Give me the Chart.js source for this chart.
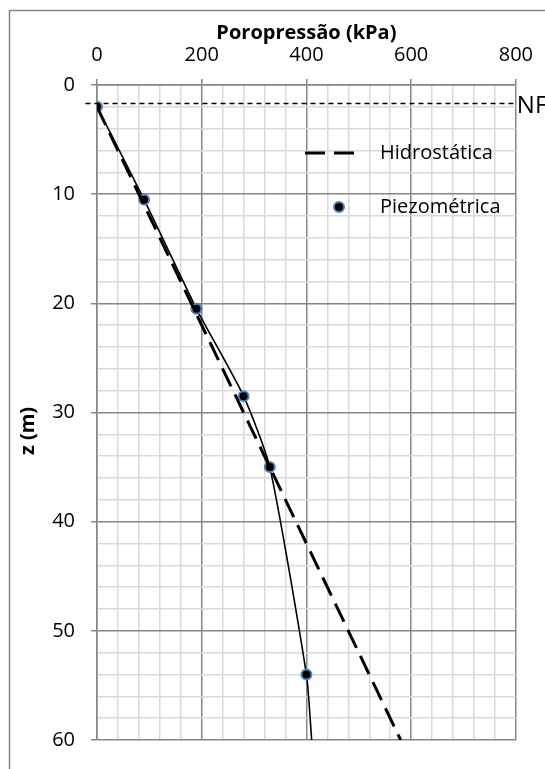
<!DOCTYPE html>
<html>
<head>
<meta charset="utf-8">
<script src="https://cdn.jsdelivr.net/npm/chart.js@4"></script>
<style>
  html, body { margin: 0; padding: 0; background: #fff; }
</style>
</head>
<body>
<canvas id="chart" width="545" height="769"></canvas>
<script>
// pore pressure (kPa) vs depth z (m)
const piezoDepth = [2, 10.5, 20.5, 28.5, 35, 54, 60];
const piezoU = [0, 90, 190, 280, 330, 400, 410];
const hidroDepth = [2, 60];
const hidroU = [0, 580];
const nfDepth = 1.7;
const nfU = [-22, 800];
const xTicks = [0, 200, 400, 600, 800];
const yTicks = [0, 10, 20, 30, 40, 50, 60];

const FONT = '"Open Sans", "Noto Sans", sans-serif';
const MAJOR = '#868686';
const MINOR = '#d9d9d9';

function pts(xs, ys) {
  return xs.map((v, i) => ({ x: v, y: ys[i] }));
}

const extras = {
  id: 'extras',
  beforeDraw(chart) {
    const ctx = chart.ctx;
    ctx.save();
    ctx.fillStyle = '#fff';
    ctx.fillRect(0, 0, chart.width, chart.height);
    ctx.strokeStyle = MAJOR;
    ctx.lineWidth = 1.5;
    ctx.strokeRect(9.5, 10.5, 600, 800);
    ctx.restore();
  },
  afterDraw(chart) {
    const { ctx, scales: { x, y } } = chart;
    ctx.save();
    ctx.fillStyle = '#000';
    ctx.textBaseline = 'middle';
    ctx.textAlign = 'left';

    // NF label
    ctx.font = '24px ' + FONT;
    ctx.fillText('NF', x.getPixelForValue(nfU[1]) + 1, y.getPixelForValue(nfDepth) + 3);

    // y axis title (Excel puts it a bit below the middle)
    ctx.save();
    ctx.translate(28, 431);
    ctx.rotate(-Math.PI / 2);
    ctx.textAlign = 'center';
    ctx.font = 'bold 20px ' + FONT;
    ctx.fillText('z (m)', 0, 0);
    ctx.restore();

    // legend
    ctx.font = '20px ' + FONT;
    const hid = chart.data.datasets[1];
    const pie = chart.data.datasets[2];
    ctx.strokeStyle = '#000';
    ctx.lineWidth = hid.borderWidth;
    ctx.setLineDash(hid.borderDash);
    ctx.beginPath();
    ctx.moveTo(305, 153);
    ctx.lineTo(362, 153);
    ctx.stroke();
    ctx.setLineDash([]);
    ctx.fillText(hid.label, 380, 153);

    ctx.beginPath();
    ctx.arc(339, 207, 5, 0, Math.PI * 2);
    ctx.fillStyle = pie.pointBackgroundColor;
    ctx.fill();
    ctx.lineWidth = pie.pointBorderWidth;
    ctx.strokeStyle = pie.pointBorderColor;
    ctx.stroke();
    ctx.fillStyle = '#000';
    ctx.fillText(pie.label, 380, 207);
    ctx.restore();
  }
};

new Chart(document.getElementById('chart'), {
  type: 'scatter',
  data: {
    datasets: [
      {
        label: 'NF',
        data: pts(nfU, [nfDepth, nfDepth]),
        showLine: true,
        borderColor: '#000',
        borderWidth: 1.5,
        borderDash: [5, 4],
        pointRadius: 0,
        clip: false
      },
      {
        label: 'Hidrostática',
        data: pts(hidroU, hidroDepth),
        showLine: true,
        borderColor: '#000',
        borderWidth: 3,
        borderDash: [20, 9],
        pointRadius: 0
      },
      {
        label: 'Piezométrica',
        data: pts(piezoU, piezoDepth),
        showLine: true,
        tension: 0.2,
        borderColor: '#000',
        borderWidth: 1.6,
        pointRadius: ctx => ctx.dataIndex === piezoU.length - 1 ? 0 : 5,
        pointBackgroundColor: '#000',
        pointBorderColor: '#4f81bd',
        pointBorderWidth: 2
      }
    ]
  },
  options: {
    responsive: false,
    animation: false,
    layout: { padding: { left: 10, top: 10, right: 29, bottom: 29 } },
    plugins: {
      legend: { display: false },
      tooltip: { enabled: false }
    },
    scales: {
      x: {
        type: 'linear',
        position: 'top',
        min: 0,
        max: 800,
        afterFit: s => { s.height = 75; },
        afterBuildTicks: s => {
          s.ticks = [];
          for (let v = 0; v <= 800; v += 40) s.ticks.push({ value: v });
        },
        ticks: {
          autoSkip: false,
          maxRotation: 0,
          minRotation: 0,
          padding: 12,
          color: '#000',
          font: { family: FONT, size: 20 },
          callback: v => xTicks.includes(v) ? String(v) : ''
        },
        grid: {
          color: c => xTicks.includes(c.tick.value) ? MAJOR : MINOR,
          lineWidth: 1.5,
          tickColor: c => xTicks.includes(c.tick.value) ? MAJOR : 'rgba(0,0,0,0)',
          tickLength: 6
        },
        border: { color: MAJOR, width: 1.5 },
        title: {
          display: true,
          text: 'Poropressão (kPa)',
          color: '#000',
          font: { family: FONT, size: 20, weight: 'bold' },
          padding: { top: 11, bottom: 0 }
        }
      },
      y: {
        type: 'linear',
        reverse: true,
        min: 0,
        max: 60,
        afterFit: s => { s.width = 87; },
        afterBuildTicks: s => {
          s.ticks = [];
          for (let v = 0; v <= 60; v += 2) s.ticks.push({ value: v });
        },
        ticks: {
          autoSkip: false,
          padding: 16,
          color: '#000',
          font: { family: FONT, size: 20 },
          callback: v => yTicks.includes(v) ? String(v) : ''
        },
        grid: {
          color: c => yTicks.includes(c.tick.value) ? MAJOR : MINOR,
          lineWidth: 1.5,
          tickColor: c => yTicks.includes(c.tick.value) ? MAJOR : 'rgba(0,0,0,0)',
          tickLength: 6
        },
        border: { color: MAJOR, width: 1.5 },
        title: { display: false }
      }
    }
  },
  plugins: [extras]
});
</script>
</body>
</html>
